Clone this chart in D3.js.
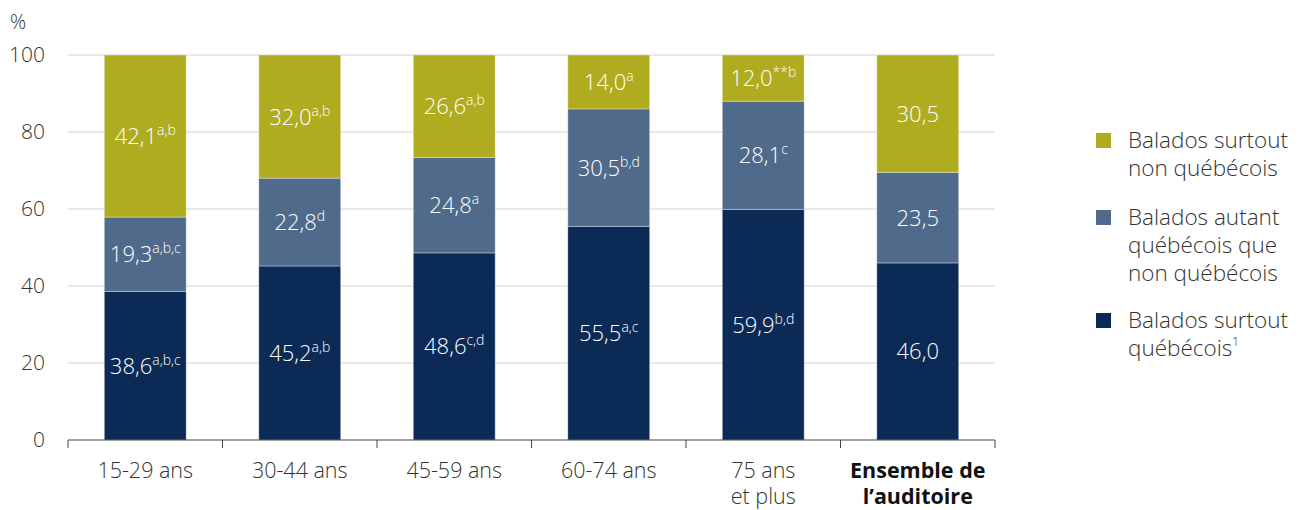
<!DOCTYPE html>
<html>
<head>
<meta charset="utf-8">
<script src="https://cdn.jsdelivr.net/npm/d3@7"></script>
<style>
  body { margin: 0; background: #fff; }
  text { font-family: "Open Sans", sans-serif; font-weight: 300; }
</style>
</head>
<body>
<script>
// Balados : provenance selon l'âge

const categories = ["15-29 ans", "30-44 ans", "45-59 ans", "60-74 ans", "75 ans|et plus", "Ensemble de|l’auditoire"];
const surtoutQc   = [38.6, 45.2, 48.6, 55.5, 59.9, 46.0];
const autant      = [19.3, 22.8, 24.8, 30.5, 28.1, 23.5];
const surtoutNonQc = [42.1, 32.0, 26.6, 14.0, 12.0, 30.5];
const supQc     = ["a,b,c", "a,b", "c,d", "a,c", "b,d", ""];
const supAutant = ["a,b,c", "d", "a", "b,d", "c", ""];
const supNonQc  = ["a,b", "a,b", "a,b", "a", "**b", ""];
const yTicks = [0, 20, 40, 60, 80, 100];

const colors = ["#0b2a56", "#4f6a8a", "#b0ac20"];

const width = 1305, height = 510;
const margin = {top: 55, right: 310, left: 68, bottom: 70};

const svg = d3.select("body").append("svg")
  .attr("width", width).attr("height", height);

const x = d3.scaleBand().domain(categories).range([margin.left, 995]).paddingInner(0.47).paddingOuter(0.235);
const y = d3.scaleLinear().domain([0, 100]).range([440, 55]);

// gridlines
svg.append("g").selectAll("line").data(yTicks.filter(d => d > 0)).enter().append("line")
  .attr("x1", margin.left).attr("x2", 995)
  .attr("y1", d => y(d)).attr("y2", d => y(d))
  .attr("stroke", "#e2e2e2").attr("stroke-width", 1.5);

// y tick labels
svg.append("g").selectAll("text").data(yTicks).enter().append("text")
  .attr("x", 45).attr("y", d => y(d))
  .attr("dy", "0.35em").attr("text-anchor", "end")
  .attr("font-size", 21).attr("fill", "#333")
  .text(d => d);

svg.append("text").attr("x", 10).attr("y", 29).attr("font-size", 20).attr("fill", "#333").text("%");

// stacked data
const rows = categories.map((c, i) => ({cat: c, v: [surtoutQc[i], autant[i], surtoutNonQc[i]], s: [supQc[i], supAutant[i], supNonQc[i]]}));

const segs = [];
rows.forEach(r => {
  let base = 0;
  r.v.forEach((v, k) => {
    segs.push({cat: r.cat, y0: base, y1: base + v, v: v, sup: r.s[k], k: k});
    base += v;
  });
});

svg.append("g").selectAll("rect").data(segs).enter().append("rect")
  .attr("x", d => x(d.cat)).attr("width", x.bandwidth())
  .attr("y", d => y(d.y1)).attr("height", d => y(d.y0) - y(d.y1))
  .attr("fill", d => colors[d.k])
  .attr("stroke", "rgba(255,255,255,0.35)").attr("stroke-width", 1);

const fmt = v => v.toFixed(1).replace(".", ",");

const lbl = svg.append("g").selectAll("text").data(segs).enter().append("text")
  .attr("x", d => x(d.cat) + x.bandwidth() / 2)
  .attr("y", d => (y(d.y0) + y(d.y1)) / 2 + 8)
  .attr("text-anchor", "middle").attr("fill", "#fff").attr("font-size", 22);
lbl.append("tspan").text(d => fmt(d.v));
lbl.append("tspan").attr("font-size", 14).attr("dy", -9).text(d => d.sup);

// x axis
const xAxis = svg.append("g");
xAxis.append("line").attr("x1", margin.left).attr("x2", 995).attr("y1", 440).attr("y2", 440)
  .attr("stroke", "#444").attr("stroke-width", 1);
xAxis.selectAll("line.tick").data(d3.range(categories.length + 1)).enter().append("line")
  .attr("class", "tick")
  .attr("x1", i => margin.left + i * (995 - margin.left) / categories.length)
  .attr("x2", i => margin.left + i * (995 - margin.left) / categories.length)
  .attr("y1", 440).attr("y2", 448).attr("stroke", "#444");

// one text per line of each category label
const xLines = [];
categories.forEach((c, i) => {
  c.split("|").forEach((t, j) => xLines.push({cat: c, t: t, j: j, bold: i === categories.length - 1}));
});
xAxis.selectAll("text").data(xLines).enter().append("text")
  .attr("x", d => x(d.cat) + x.bandwidth() / 2)
  .attr("y", d => 478 + d.j * 26)
  .attr("text-anchor", "middle").attr("font-size", 21.5)
  .style("font-weight", d => d.bold ? 700 : 300)
  .style("fill", d => d.bold ? "#111" : "#333")
  .text(d => d.t);

// legend
const legend = [
  {k: 2, lines: ["Balados surtout", "non québécois"], y: 133},
  {k: 1, lines: ["Balados autant", "québécois que", "non québécois"], y: 210},
  {k: 0, lines: ["Balados surtout", "québécois"], y: 313, sup: "1"}
];
const lg = svg.append("g").selectAll("g").data(legend).enter().append("g");
lg.append("rect").attr("x", 1096).attr("y", d => d.y).attr("width", 15).attr("height", 15).attr("fill", d => colors[d.k]);
const lt = lg.append("text").attr("x", 1128).attr("y", d => d.y + 15).attr("font-size", 22.5).attr("fill", "#333");
lt.each(function(d) {
  const t = d3.select(this);
  d.lines.forEach((line, i) => {
    t.append("tspan").attr("x", 1128).attr("dy", i ? 28 : 0).text(line);
  });
  if (d.sup) t.append("tspan").attr("font-size", 12).attr("dy", -10).text(d.sup);
});
</script>
</body>
</html>
